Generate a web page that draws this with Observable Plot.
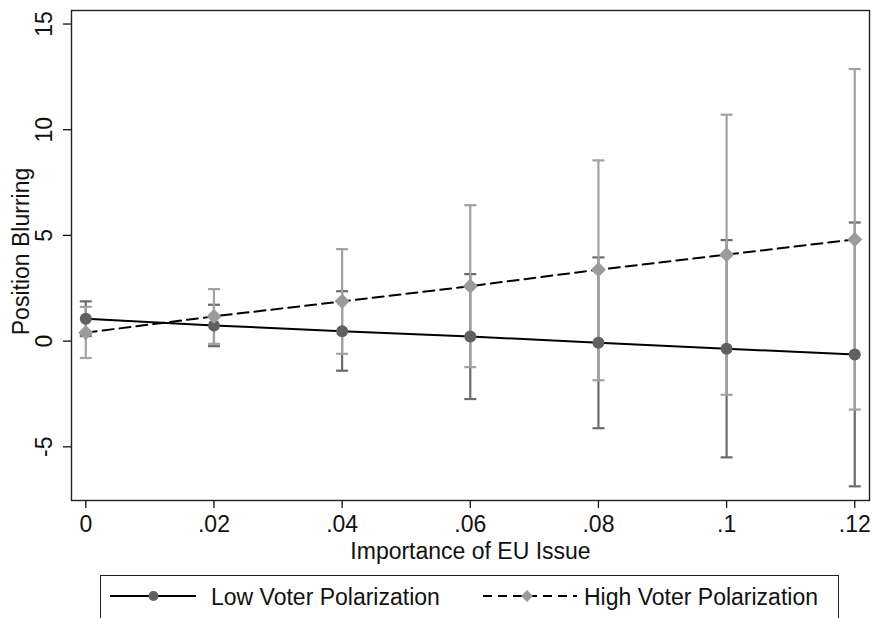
<!DOCTYPE html>
<html><head><meta charset="utf-8">
<script src="https://cdn.jsdelivr.net/npm/d3@7"></script>
<script src="https://cdn.jsdelivr.net/npm/@observablehq/plot@0.6"></script>
<style>
html,body{margin:0;padding:0;background:#fff;}
body{font-family:"Liberation Sans",Arial,Helvetica,sans-serif;position:relative;width:872px;height:618px;overflow:hidden;}
#chart{position:absolute;left:0;top:0;}
#legend{position:absolute;left:100px;top:575px;width:739px;height:46px;border:1.3px solid #222;box-sizing:border-box;background:#fff;}
</style></head><body><div id="chart"></div><div id="legend"></div>
<script>
// ---- data ----
const importance   = [0, 0.02, 0.04, 0.06, 0.08, 0.10, 0.12];
const lowEstimate  = [1.06, 0.74, 0.47, 0.22, -0.08, -0.36, -0.63];
const lowLower     = [0.24, -0.24, -1.40, -2.74, -4.12, -5.50, -6.87];
const lowUpper     = [1.88, 1.72, 2.36, 3.17, 3.96, 4.78, 5.61];
const highEstimate = [0.40, 1.17, 1.88, 2.60, 3.38, 4.09, 4.81];
const highLower    = [-0.80, -0.13, -0.60, -1.23, -1.85, -2.54, -3.24];
const highUpper    = [1.62, 2.46, 4.35, 6.43, 8.55, 10.71, 12.87];
const xTicks       = [0, 0.02, 0.04, 0.06, 0.08, 0.10, 0.12];
const xTickLabels  = ["0", ".02", ".04", ".06", ".08", ".1", ".12"];
const yTicks       = [-5, 0, 5, 10, 15];
const yTickLabels  = ["-5", "0", "5", "10", "15"];
const seriesNames  = ["Low Voter Polarization", "High Voter Polarization"];
const xTitle = "Importance of EU Issue";
const yTitle = "Position Blurring";

const low  = importance.map((x, i) => ({x, y: lowEstimate[i],  lo: lowLower[i],  hi: lowUpper[i]}));
const high = importance.map((x, i) => ({x, y: highEstimate[i], lo: highLower[i], hi: highUpper[i]}));

const LOW_BAR = "#6a6a6a", HIGH_BAR = "#a2a2a2", LOW_DOT = "#606060", HIGH_DOT = "#9b9b9b";
const FONT = '"Liberation Sans", Arial, Helvetica, sans-serif';
const cap = {draw(ctx) { ctx.moveTo(-6, 0); ctx.lineTo(6, 0); }};

function ci(data, color) {
  return [
    Plot.ruleX(data, {x: "x", y1: "lo", y2: "hi", stroke: color, strokeWidth: 2.2}),
    Plot.dot(data, {x: "x", y: "lo", symbol: cap, stroke: color, strokeWidth: 2.2, fill: "none", r: 4}),
    Plot.dot(data, {x: "x", y: "hi", symbol: cap, stroke: color, strokeWidth: 2.2, fill: "none", r: 4})
  ];
}

const chart = Plot.plot({
  width: 872,
  height: 570,
  marginLeft: 71,
  marginRight: 3,
  marginTop: 10,
  marginBottom: 70,
  style: {fontFamily: FONT, fontSize: "23px", background: "#fff", color: "#111"},
  x: {domain: [-0.00223, 0.1223]},
  y: {domain: [-7.54, 15.64]},
  marks: [
    ...ci(low, LOW_BAR),
    ...ci(high, HIGH_BAR),
    Plot.line(low, {x: "x", y: "y", stroke: "#000", strokeWidth: 2}),
    Plot.line(high, {x: "x", y: "y", stroke: "#000", strokeWidth: 2, strokeDasharray: "11,6"}),
    Plot.dot(low, {x: "x", y: "y", r: 6, fill: LOW_DOT, stroke: "none"}),
    Plot.dot(high, {x: "x", y: "y", r: 6.8, symbol: "diamond2", fill: HIGH_DOT, stroke: "none"}),
    Plot.frame({stroke: "#222", strokeWidth: 1.4}),
    Plot.axisX({ticks: xTicks, tickFormat: d => xTickLabels[xTicks.indexOf(d)], tickSize: 8, tickPadding: 7, label: null, strokeWidth: 1.3}),
    Plot.axisY({ticks: yTicks, tickFormat: () => "", tickSize: 8, label: null, strokeWidth: 1.3}),
    Plot.text(yTicks, {y: d => d, text: (d, i) => yTickLabels[i], frameAnchor: "left", dx: -27, rotate: -90, textAnchor: "middle", lineAnchor: "middle", fill: "#111"}),
    Plot.text([xTitle], {text: d => d, frameAnchor: "bottom", dy: 51, lineAnchor: "middle", textAnchor: "middle", fill: "#111"}),
    Plot.text([yTitle], {text: d => d, frameAnchor: "left", dx: -50, dy: -4, rotate: -90, lineAnchor: "middle", textAnchor: "middle", fill: "#111"})
  ]
});
document.getElementById("chart").append(chart);

// ---- legend ----
const lg = d3.select("#legend").append("svg").attr("width", 739).attr("height", 46)
  .style("position", "absolute").style("left", "-1.3px").style("top", "-1.3px");
lg.append("line").attr("x1", 10).attr("x2", 96).attr("y1", 21).attr("y2", 21).attr("stroke", "#000").attr("stroke-width", 2);
lg.append("circle").attr("cx", 53.5).attr("cy", 21).attr("r", 5).attr("fill", LOW_DOT);
lg.append("text").attr("x", 111).attr("y", 30).text(seriesNames[0])
  .attr("font-size", 23).attr("font-family", FONT).attr("fill", "#111");
lg.append("line").attr("x1", 383).attr("x2", 477).attr("y1", 21).attr("y2", 21).attr("stroke", "#000").attr("stroke-width", 2).attr("stroke-dasharray", "9,6");
lg.append("path").attr("d", d3.symbol(d3.symbolDiamond2, 90)()).attr("transform", "translate(427,21)").attr("fill", HIGH_DOT);
lg.append("text").attr("x", 484).attr("y", 30).text(seriesNames[1])
  .attr("font-size", 23).attr("font-family", FONT).attr("fill", "#111");
</script>
</body></html>
